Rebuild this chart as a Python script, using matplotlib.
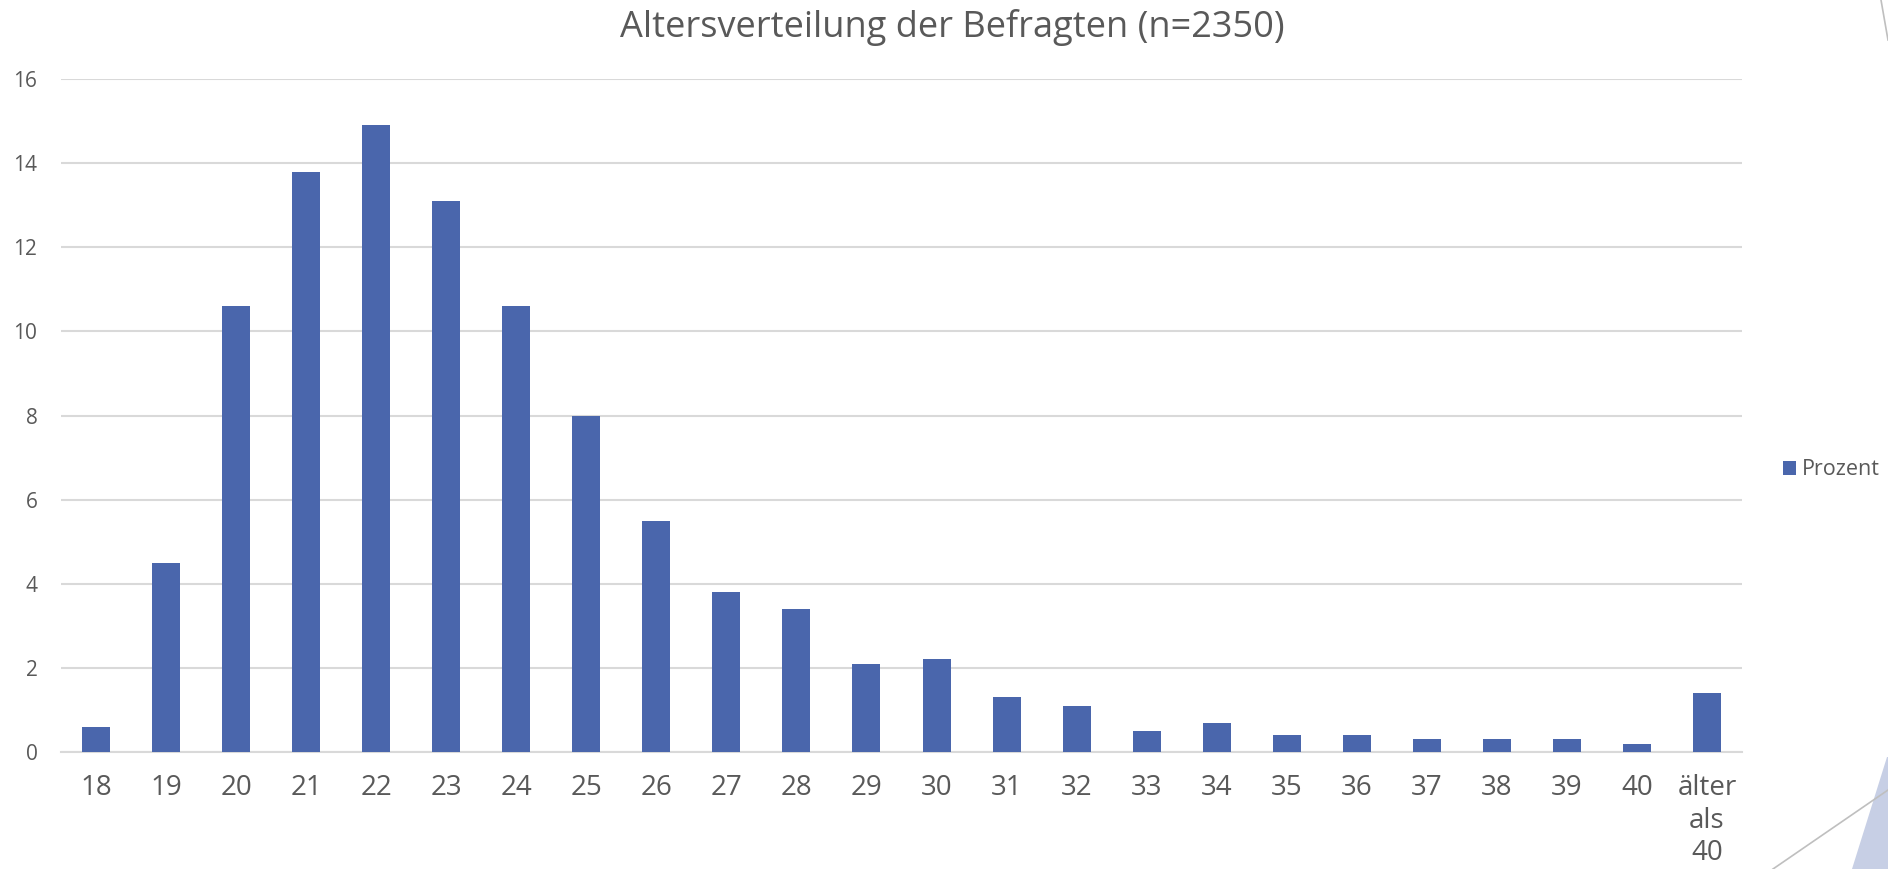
import matplotlib
matplotlib.use("Agg")
import matplotlib.pyplot as plt
from matplotlib.lines import Line2D
from matplotlib.patches import Polygon

plt.rcParams["font.family"] = ["Open Sans", "DejaVu Sans"]

# data
ages = ["18", "19", "20", "21", "22", "23", "24", "25", "26", "27", "28", "29",
        "30", "31", "32", "33", "34", "35", "36", "37", "38", "39", "40",
        "älter\nals\n40"]
prozent = [0.6, 4.5, 10.6, 13.8, 14.9, 13.1, 10.6, 8.0, 5.5, 3.8, 3.4, 2.1,
           2.2, 1.3, 1.1, 0.5, 0.7, 0.4, 0.4, 0.3, 0.3, 0.3, 0.2, 1.4]
yticks = [0, 2, 4, 6, 8, 10, 12, 14, 16]

W, H = 1888, 869
TEXT = "#595959"
GRID = "#d9d9d9"
BAR = "#4a66ac"

fig = plt.figure(figsize=(W / 100, H / 100), dpi=100)
ax = fig.add_axes([61 / W, 1 - 752 / H, (1742 - 61) / W, (752 - 79) / H])

x = list(range(len(ages)))
ax.bar(x, prozent, width=0.4, color=BAR, label="Prozent", zorder=3)

ax.set_xlim(-0.5, len(ages) - 0.5)
ax.set_ylim(0, 16)
ax.set_yticks(yticks)
ax.set_xticks(x)
ax.set_xticklabels(ages, fontsize=20, color=TEXT, linespacing=1.22)
ax.tick_params(axis="y", length=0, pad=17, labelsize=15, labelcolor=TEXT)
ax.tick_params(axis="x", length=0, pad=16)
ax.grid(axis="y", color=GRID, linewidth=1.5, zorder=0)
for s in ["top", "right", "left"]:
    ax.spines[s].set_visible(False)
ax.spines["bottom"].set_color(GRID)
ax.spines["bottom"].set_linewidth(1.5)

fig.text(952 / W, 1 - 27 / H, "Altersverteilung der Befragten (n=2350)",
         ha="center", va="center", fontsize=26, color=TEXT)

leg = ax.legend(loc="center left", bbox_to_anchor=(1783 / W, 1 - 470 / H),
                bbox_transform=fig.transFigure, frameon=False, fontsize=15.5,
                handlelength=0.6, handleheight=0.6, handletextpad=0.28,
                borderaxespad=0, borderpad=0)
for t in leg.get_texts():
    t.set_color(TEXT)

# slide template decorations on the right edge
fig.add_artist(Polygon([(1887 / W, 1 - 757 / H), (1852 / W, 0), (1, 0), (1, 1 - 757 / H)],
                       closed=True, transform=fig.transFigure,
                       facecolor="#c7cfe5", edgecolor="none"))
fig.add_artist(Line2D([1773 / W, 1], [0, 1 - 790 / H], transform=fig.transFigure,
                      color="#bfbfbf", linewidth=1.2))
fig.add_artist(Line2D([1881 / W, 1], [1, 1 - 40 / H], transform=fig.transFigure,
                      color="#bfbfbf", linewidth=1.2))

fig.savefig("out.png", dpi=100)
